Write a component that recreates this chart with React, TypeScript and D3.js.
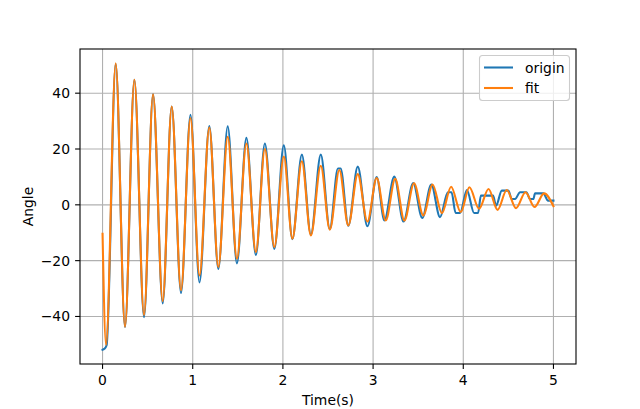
import React from "react";
import * as d3 from "d3";

// Extrema (time in s, angle)
const originTimes = [
  0, 0.02, 0.045, 0.146, 0.249, 0.353, 0.46, 0.56, 0.667, 0.767, 0.87, 0.975,
  1.075, 1.184, 1.284, 1.388, 1.49, 1.595, 1.7, 1.8, 1.905, 2.01, 2.105, 2.21,
  2.31, 2.42, 2.52, 2.61, 2.64, 2.725, 2.83, 2.937, 3.04, 3.125, 3.235, 3.337,
  3.445, 3.545, 3.645, 3.742, 3.83, 3.87, 3.915, 3.965, 4.04, 4.12, 4.165,
  4.195, 4.33, 4.364, 4.427, 4.5, 4.537, 4.574, 4.63, 4.7, 4.74, 4.777, 4.796,
  4.888, 4.94, 5.0,
];
const originValues = [
  -51.9, -51.6, -50.3, 50.5, -43.8, 44.8, -40.3, 39.6, -35.3, 35.2, -31.6,
  32.3, -27.8, 28.2, -23, 28.1, -21, 24, -18, 22, -15.8, 21.3, -12.3, 18,
  -10.7, 18, -8.7, 13, 13, -7.5, 13.7, -7.7, 10, -5.6, 10.1, -6, 7.8, -4.7,
  7.3, -4.4, 4.5, 4.5, -2.9, -2.9, 5.3, -2.9, -2.9, 3.3, 3.3, -0.3, 5.1, 5.1,
  2.1, 2.1, 4.5, 4.5, 2.1, 2.1, 4.1, 4.1, 1.5, 1.5,
];

const fitTimes = [
  0, 0.039, 0.146, 0.249, 0.353, 0.46, 0.56, 0.667, 0.767, 0.87, 0.975, 1.075,
  1.184, 1.284, 1.388, 1.49, 1.595, 1.7, 1.8, 1.905, 2.01, 2.105, 2.21, 2.31,
  2.42, 2.52, 2.626, 2.725, 2.83, 2.937, 3.04, 3.14, 3.245, 3.347, 3.454,
  3.557, 3.66, 3.763, 3.865, 3.972, 4.068, 4.175, 4.28, 4.38, 4.482, 4.585,
  4.69, 4.79, 4.896, 5.0,
];
const fitValues = [
  -10.4, -50.2, 50.7, -43.7, 44.8, -39.5, 39.6, -34.5, 35.2, -30.6, 31.1,
  -25.3, 27.7, -22.3, 24.4, -19.3, 22, -16.9, 20, -15.1, 17.3, -12.1, 15.6,
  -11, 14, -8.9, 12.5, -7.4, 11, -6, 9.6, -5.6, 9.3, -5.6, 7.7, -3.8, 7.3, -3,
  6.5, -2.6, 6.3, -1.4, 5.7, -1.8, 5.3, -1.2, 4.5, -0.8, 4.1, -0.5,
];

const xTicks = [0, 1, 2, 3, 4, 5];
const yTicks = [-40, -20, 0, 20, 40];
const seriesNames = ["origin", "fit"];
const seriesColors = ["#1f77b4", "#ff7f0e"];

const W = 640;
const H = 409;
const L = 80;
const R = 576;
const T = 49;
const B = 364;
const FONT = "DejaVu Sans, sans-serif";

export default function App() {
  const allX = [...originTimes, ...fitTimes];
  const allY = [...originValues, ...fitValues];
  const [x0, x1] = d3.extent(allX) as [number, number];
  const [y0, y1] = d3.extent(allY) as [number, number];
  const mx = (x1 - x0) * 0.05;
  const my = (y1 - y0) * 0.05;
  const x = d3.scaleLinear().domain([x0 - mx, x1 + mx]).range([L, R]);
  const y = d3.scaleLinear().domain([y0 - my, y1 + my]).range([B, T]);

  const line = d3
    .line<[number, number]>()
    .x((d) => x(d[0]))
    .y((d) => y(d[1]))
    .curve(d3.curveMonotoneX);

  const origin: [number, number][] = originTimes.map((t, i) => [t, originValues[i]]);
  const fit: [number, number][] = fitTimes.map((t, i) => [t, fitValues[i]]);
  const fmt = (v: number) => (v < 0 ? "\u2212" + Math.abs(v) : String(v));

  return (
    <div style={{ position: "fixed", left: 0, top: 0 }}>
      <svg width={W} height={H} style={{ display: "block", background: "#fff" }}>
        <rect x={0} y={0} width={W} height={H} fill="#fff" />
        {/* grid */}
        {xTicks.map((t) => (
          <line key={"gx" + t} x1={x(t)} x2={x(t)} y1={T} y2={B} stroke="#b0b0b0" strokeWidth={1.1} />
        ))}
        {yTicks.map((t) => (
          <line key={"gy" + t} x1={L} x2={R} y1={y(t)} y2={y(t)} stroke="#b0b0b0" strokeWidth={1.1} />
        ))}
        <defs>
          <clipPath id="plotclip">
            <rect x={L} y={T} width={R - L} height={B - T} />
          </clipPath>
        </defs>
        <g clipPath="url(#plotclip)">
          <path d={line(origin) || ""} fill="none" stroke={seriesColors[0]} strokeWidth={2.08} strokeLinejoin="round" strokeLinecap="square" />
          <path d={line(fit) || ""} fill="none" stroke={seriesColors[1]} strokeWidth={2.08} strokeLinejoin="round" strokeLinecap="square" />
        </g>
        {/* spines */}
        <rect x={L} y={T} width={R - L} height={B - T} fill="none" stroke="#000" strokeWidth={1.1} />
        {/* x ticks */}
        {xTicks.map((t) => (
          <g key={"xt" + t}>
            <line x1={x(t)} x2={x(t)} y1={B} y2={B + 4.9} stroke="#000" strokeWidth={1.1} />
            <text x={x(t)} y={B + 21} textAnchor="middle" fontFamily={FONT} fontSize={13.9} fill="#000">
              {fmt(t)}
            </text>
          </g>
        ))}
        {yTicks.map((t) => (
          <g key={"yt" + t}>
            <line x1={L - 4.9} x2={L} y1={y(t)} y2={y(t)} stroke="#000" strokeWidth={1.1} />
            <text x={L - 10} y={y(t)} dy="0.36em" textAnchor="end" fontFamily={FONT} fontSize={13.9} fill="#000">
              {fmt(t)}
            </text>
          </g>
        ))}
        <text x={(L + R) / 2} y={405} textAnchor="middle" fontFamily={FONT} fontSize={13.9} fill="#000">
          Time(s)
        </text>
        <text
          transform={`translate(33,${(T + B) / 2}) rotate(-90)`}
          textAnchor="middle"
          fontFamily={FONT}
          fontSize={13.9}
          fill="#000"
        >
          Angle
        </text>
        {/* legend */}
        <g>
          <rect x={479.5} y={55.5} width={90} height={45} rx={3} fill="#fff" fillOpacity={0.8} stroke="#cccccc" strokeWidth={1.1} />
          {seriesNames.map((n, i) => (
            <g key={n}>
              <line x1={484} x2={513} y1={67.5 + i * 20.5} y2={67.5 + i * 20.5} stroke={seriesColors[i]} strokeWidth={2.08} />
              <text x={525} y={67.5 + i * 20.5} dy="0.36em" fontFamily={FONT} fontSize={13.9} fill="#000">
                {n}
              </text>
            </g>
          ))}
        </g>
      </svg>
    </div>
  );
}
